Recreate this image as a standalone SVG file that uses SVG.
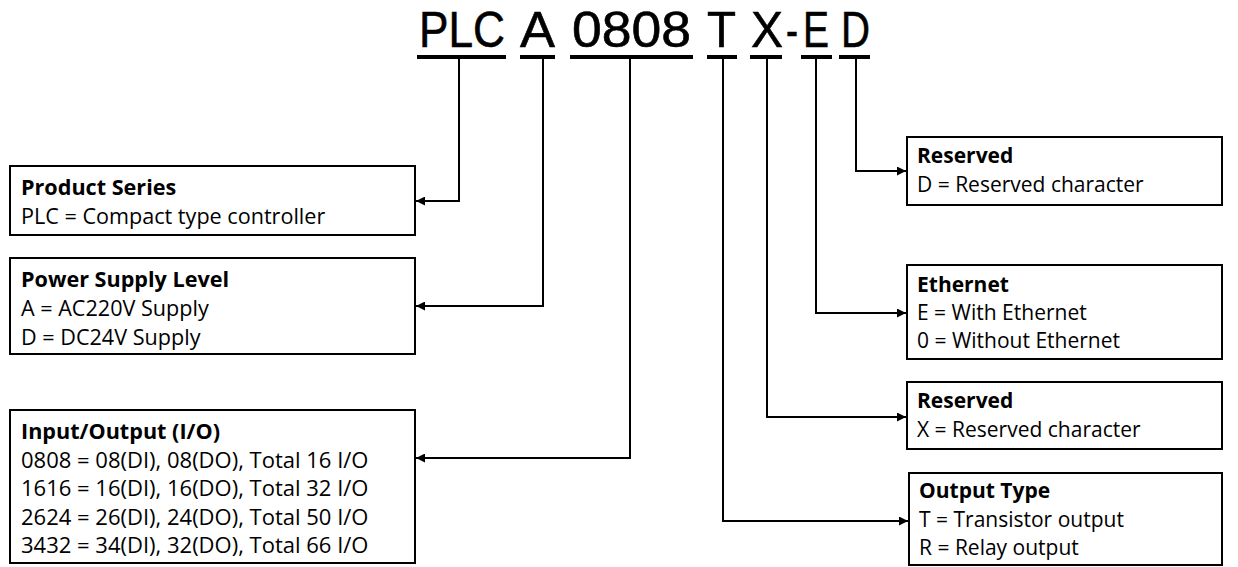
<svg xmlns="http://www.w3.org/2000/svg" width="1238" height="567" viewBox="0 0 1238 567">
<style>
.code{font-family:"Liberation Sans",Arial,sans-serif;font-size:50px;fill:#000;stroke:#000;stroke-width:0.6}
.ul{stroke:#000;stroke-width:4}
.box{fill:#fff;stroke:#000;stroke-width:2}
.t{font-family:"Open Sans","Noto Sans",sans-serif;font-size:21px;fill:#000}
.l{font-size:21.6px}
.io{font-size:22px}
.b{font-weight:bold}
.c{fill:none;stroke:#000;stroke-width:2}
</style>
<defs>
<marker id="ah" viewBox="0 0 10 10" refX="10" refY="5" markerWidth="4.5" markerHeight="4.5" orient="auto" markerUnits="strokeWidth">
<path d="M0,0 L10,5 L0,10 z" fill="#000"/>
</marker>
</defs>
<rect width="1238" height="567" fill="#fff"/>
<g id="code">
<text class="code" x="419" y="47" textLength="86" lengthAdjust="spacingAndGlyphs">PLC</text>
<text class="code" x="520" y="47" textLength="35" lengthAdjust="spacingAndGlyphs">A</text>
<text class="code" x="572" y="47" textLength="119" lengthAdjust="spacingAndGlyphs">0808</text>
<text class="code" x="707" y="47" textLength="29" lengthAdjust="spacingAndGlyphs">T</text>
<text class="code" x="751" y="47" textLength="32" lengthAdjust="spacingAndGlyphs">X</text>
<text class="code" x="786" y="47" textLength="12" lengthAdjust="spacingAndGlyphs">-</text>
<text class="code" x="803" y="47" textLength="26" lengthAdjust="spacingAndGlyphs">E</text>
<text class="code" x="841" y="47" textLength="29" lengthAdjust="spacingAndGlyphs">D</text>
<line class="ul" x1="417" y1="57" x2="506" y2="57"/>
<line class="ul" x1="520" y1="57" x2="555" y2="57"/>
<line class="ul" x1="570" y1="57" x2="693" y2="57"/>
<line class="ul" x1="707" y1="57" x2="737" y2="57"/>
<line class="ul" x1="750" y1="57" x2="782" y2="57"/>
<line class="ul" x1="801" y1="57" x2="832" y2="57"/>
<line class="ul" x1="839" y1="57" x2="870" y2="57"/>
</g>
<g id="connectors">
<polyline class="c" points="459,59 459,201 416,201" marker-end="url(#ah)"/>
<polyline class="c" points="543,59 543,306 416,306" marker-end="url(#ah)"/>
<polyline class="c" points="630,59 630,458 416,458" marker-end="url(#ah)"/>
<polyline class="c" points="723,59 723,521 908,521" marker-end="url(#ah)"/>
<polyline class="c" points="767,59 767,417 906,417" marker-end="url(#ah)"/>
<polyline class="c" points="816,59 816,313 906,313" marker-end="url(#ah)"/>
<polyline class="c" points="856,59 856,171 906,171" marker-end="url(#ah)"/>
</g>
<g id="product-series">
<rect class="box" x="10" y="166" width="405" height="69"/>
<text class="t l b" x="21" y="195">Product Series</text>
<text class="t l" x="21" y="224">PLC = Compact type controller</text>
</g>
<g id="power-supply">
<rect class="box" x="10" y="258" width="405" height="96"/>
<text class="t l b" x="21" y="287">Power Supply Level</text>
<text class="t l" x="21" y="316">A = AC220V Supply</text>
<text class="t l" x="21" y="345">D = DC24V Supply</text>
</g>
<g id="io">
<rect class="box" x="10" y="410" width="405" height="153"/>
<text class="t l b" x="21" y="439">Input/Output (I/O)</text>
<text class="t io" x="21" y="467.5">0808 = 08(DI), 08(DO), Total 16 I/O</text>
<text class="t io" x="21" y="496">1616 = 16(DI), 16(DO), Total 32 I/O</text>
<text class="t io" x="21" y="524.5">2624 = 26(DI), 24(DO), Total 50 I/O</text>
<text class="t io" x="21" y="553">3432 = 34(DI), 32(DO), Total 66 I/O</text>
</g>
<g id="reserved-d">
<rect class="box" x="907" y="137" width="315" height="68"/>
<text class="t b" x="917" y="163">Reserved</text>
<text class="t" x="917" y="192">D = Reserved character</text>
</g>
<g id="ethernet">
<rect class="box" x="907" y="265" width="315" height="94"/>
<text class="t b" x="917" y="292">Ethernet</text>
<text class="t" x="917" y="320">E = With Ethernet</text>
<text class="t" x="917" y="348">0 = Without Ethernet</text>
</g>
<g id="reserved-x">
<rect class="box" x="907" y="382" width="315" height="67"/>
<text class="t b" x="917" y="408">Reserved</text>
<text class="t" x="917" y="437">X = Reserved character</text>
</g>
<g id="output-type">
<rect class="box" x="909" y="473" width="313" height="92"/>
<text class="t b" x="919" y="498">Output Type</text>
<text class="t" x="919" y="527">T = Transistor output</text>
<text class="t" x="919" y="555">R = Relay output</text>
</g>
</svg>
